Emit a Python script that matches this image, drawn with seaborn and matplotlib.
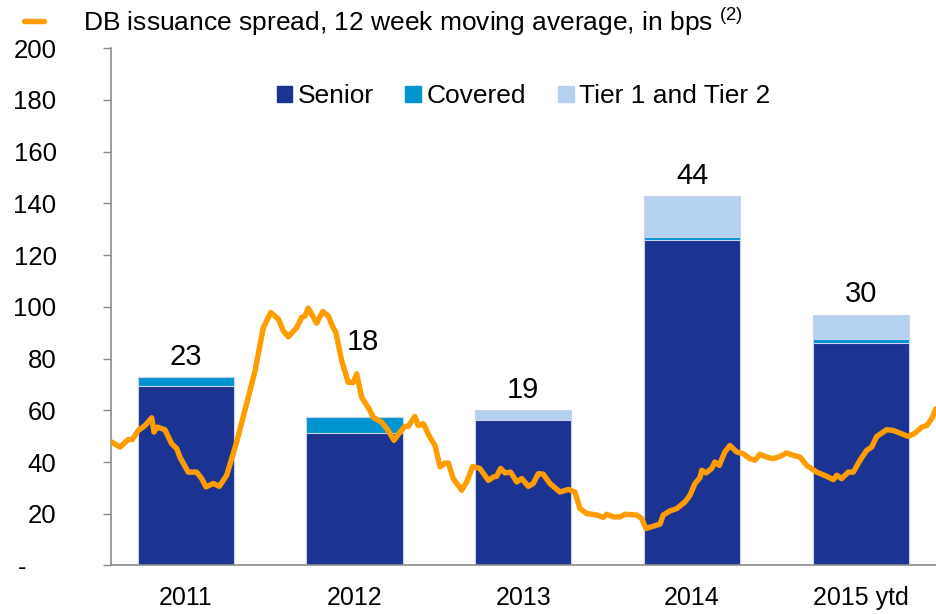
import numpy as np
import pandas as pd
import seaborn as sns
import matplotlib.pyplot as plt
from matplotlib.patches import Patch
from matplotlib.lines import Line2D
from matplotlib.transforms import ScaledTranslation

# bar data (EUR bn issuance)
years = ["2011", "2012", "2013", "2014", "2015 ytd"]
senior = [69.3, 51.2, 56.3, 125.8, 86.0]
covered = [3.4, 6.4, 0.0, 1.2, 1.7]
tier12 = [0.0, 0.0, 3.7, 15.8, 9.3]
bar_labels = ["23", "18", "19", "44", "30"]

# DB issuance spread, 12 week moving average (x in bar-category units)
spread_x = [-0.438, -0.389, -0.340, -0.316, -0.281, -0.241, -0.201, -0.188, -0.168, -0.123,
            -0.083, -0.053, -0.034, 0.015, 0.065, 0.095, 0.120, 0.164, 0.199, 0.243,
            0.302, 0.361, 0.411, 0.460, 0.504, 0.549, 0.578, 0.608, 0.658, 0.687,
            0.707, 0.726, 0.776, 0.812, 0.845, 0.871, 0.890, 0.924, 0.963, 0.993,
            1.013, 1.043, 1.092, 1.111, 1.161, 1.200, 1.234, 1.270, 1.299, 1.319,
            1.358, 1.378, 1.408, 1.447, 1.477, 1.507, 1.536, 1.556, 1.585, 1.635,
            1.665, 1.700, 1.743, 1.793, 1.822, 1.842, 1.866, 1.892, 1.925, 1.961,
            1.991, 2.030, 2.059, 2.089, 2.118, 2.158, 2.217, 2.267, 2.306, 2.336,
            2.376, 2.435, 2.474, 2.494, 2.533, 2.573, 2.603, 2.672, 2.701, 2.727,
            2.770, 2.810, 2.829, 2.869, 2.909, 2.958, 2.988, 3.017, 3.047, 3.057,
            3.082, 3.116, 3.135, 3.161, 3.194, 3.224, 3.264, 3.303, 3.343, 3.372,
            3.402, 3.442, 3.481, 3.521, 3.560, 3.600, 3.640, 3.679, 3.738, 3.797,
            3.837, 3.857, 3.886, 3.925, 3.955, 3.995, 4.034, 4.064, 4.094, 4.153,
            4.192, 4.231, 4.281, 4.321, 4.360, 4.390, 4.419, 4.445]
spread_bps = [47.7, 45.8, 48.7, 48.7, 52.2, 54.1, 57.1, 51.6, 53.5, 52.5,
              47.1, 45.2, 41.9, 36.1, 36.1, 33.6, 30.4, 31.7, 30.6, 34.9,
              47.7, 62.5, 75.3, 92.0, 97.8, 95.3, 90.8, 88.4, 92.0, 95.9,
              96.5, 99.5, 93.7, 98.2, 96.5, 92.3, 90.1, 79.2, 70.8, 70.8,
              74.1, 65.0, 59.9, 57.3, 55.4, 52.2, 48.4, 51.6, 53.8, 53.8,
              57.6, 54.1, 54.8, 49.6, 46.4, 38.1, 39.6, 39.6, 33.6, 29.1,
              32.3, 38.3, 37.5, 32.9, 34.2, 34.5, 37.5, 35.8, 36.1, 32.3,
              33.6, 30.6, 31.7, 35.5, 35.3, 31.7, 28.4, 29.4, 28.4, 22.0,
              20.1, 19.5, 18.6, 19.8, 18.8, 18.8, 19.8, 19.5, 18.2, 14.3,
              15.2, 16.0, 19.5, 21.1, 22.0, 24.6, 27.2, 31.7, 34.0, 36.8,
              35.8, 37.5, 40.0, 38.7, 43.9, 46.4, 43.9, 43.2, 41.3, 40.7,
              43.0, 41.9, 41.3, 42.2, 43.5, 42.6, 41.9, 38.7, 36.1, 34.5,
              33.2, 34.9, 33.6, 36.1, 36.1, 40.7, 44.5, 45.8, 49.9, 52.5,
              52.2, 51.2, 49.9, 51.2, 53.5, 54.1, 56.7, 60.6]

navy = "#1b3391"
cyan = "#0094d0"
light = "#b4d2ef"
orange = "#ff9c00"

sns.set_style("white")
plt.rcParams["font.family"] = ["Liberation Sans", "DejaVu Sans"]
plt.rcParams["mathtext.fontset"] = "custom"
plt.rcParams["mathtext.rm"] = "Liberation Sans"
plt.rcParams["text.color"] = "black"
plt.rcParams["xtick.labelcolor"] = "black"
plt.rcParams["ytick.labelcolor"] = "black"

df = pd.DataFrame({"year": years, "senior": senior, "covered": covered, "tier": tier12})
df["sc"] = df["senior"] + df["covered"]
df["total"] = df["sc"] + df["tier"]

fig = plt.figure(figsize=(9.36, 6.14), dpi=100)
ax = fig.add_axes([0.1183, 0.079, 0.8817, 0.8425])

# stacked bars: draw totals first then overlay lower parts
for col, c in [("total", light), ("sc", cyan), ("senior", navy)]:
    sns.barplot(data=df, x="year", y=col, color=c, width=0.57, ax=ax,
                saturation=1, edgecolor="#c9d3ec", linewidth=0.8)

sns.lineplot(x=spread_x, y=spread_bps, sort=False, estimator=None, color=orange,
             linewidth=3.9, ax=ax, zorder=5)

# bar totals (2012 label lifted above the line)
for i, t in enumerate(df["total"]):
    if i == 1:
        ax.text(1.05, 81, bar_labels[i], ha="center", va="bottom", fontsize=21)
    else:
        ax.annotate(bar_labels[i], (i, t), xytext=(0, 4.5), textcoords="offset points",
                    ha="center", va="bottom", fontsize=21)

ax.set_xlim(-0.444, 4.445)
ax.set_ylim(0, 200)
ax.set_yticks(range(0, 201, 20))
ax.set_yticklabels(["-"] + [str(v) for v in range(20, 201, 20)])
ax.set_xlabel("")
ax.set_ylabel("")
for s in ["top", "right"]:
    ax.spines[s].set_visible(False)
for s in ["left", "bottom"]:
    ax.spines[s].set_color("#8c8c8c")
    ax.spines[s].set_linewidth(1.2)
ax.tick_params(axis="y", left=True, length=6, width=1, color="#8c8c8c",
               labelsize=18.5, pad=33)
ax.tick_params(axis="x", bottom=False, labelsize=18, pad=11)
# accounting style dash sits further left
dash = ax.get_yticklabels()[0]
dash.set_transform(dash.get_transform() + ScaledTranslation(-0.3, 0, fig.dpi_scale_trans))

handles = [Patch(color=navy), Patch(color=cyan), Patch(color=light)]
ax.legend(handles, ["Senior", "Covered", "Tier 1 and Tier 2"], ncol=3, loc="upper center",
          bbox_to_anchor=(0.5, 0.976), frameon=False, fontsize=19, handlelength=0.6,
          handleheight=0.6, handletextpad=0.2, columnspacing=1.2)

fig.legend([Line2D([], [], color=orange, linewidth=3.9)],
           ["DB issuance spread, 12 week moving average, in bps $^{(2)}$"],
           loc="upper left", bbox_to_anchor=(0.0, 1.031), frameon=False, fontsize=19,
           handlelength=0.75, handletextpad=1.5)

fig.savefig("out.png", dpi=100)
